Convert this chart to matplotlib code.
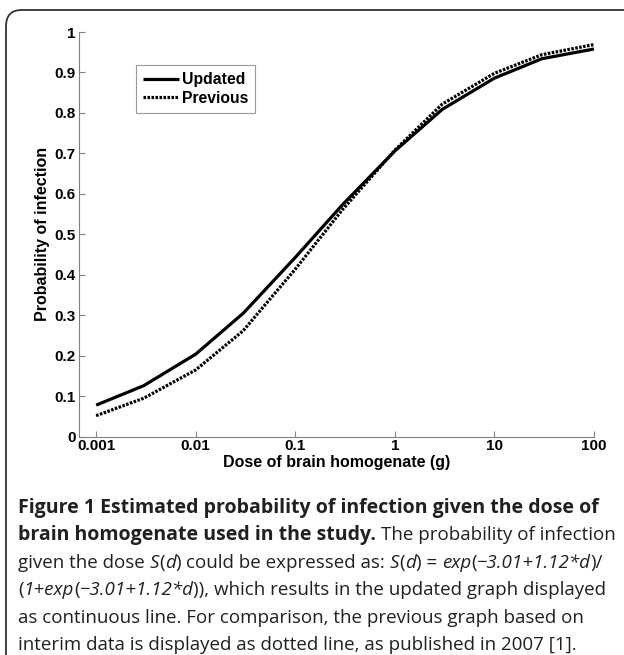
import matplotlib
matplotlib.use('Agg')
from matplotlib import pyplot as plt
from matplotlib.patches import FancyBboxPatch
from matplotlib.ticker import FixedLocator, FixedFormatter, NullLocator

# dose (g) and probability
dose = [0.001, 0.003, 0.01, 0.03, 0.1, 0.3, 1, 3, 10, 30, 100]
updated = [0.078, 0.126, 0.204, 0.305, 0.443, 0.574, 0.706, 0.809, 0.886, 0.934, 0.958]
previous = [0.052, 0.095, 0.165, 0.262, 0.414, 0.562, 0.708, 0.822, 0.898, 0.944, 0.969]

xticks = [0.001, 0.01, 0.1, 1, 10, 100]
xticklabels = ['0.001', '0.01', '0.1', '1', '10', '100']
yticks = [0, 0.1, 0.2, 0.3, 0.4, 0.5, 0.6, 0.7, 0.8, 0.9, 1]
yticklabels = ['0', '0.1', '0.2', '0.3', '0.4', '0.5', '0.6', '0.7', '0.8', '0.9', '1']

W, H = 624, 655
fig = plt.figure(figsize=(W / 100, H / 100), dpi=100)

# rounded frame around figure + caption (clipped at right/bottom)
frame = FancyBboxPatch((6 / W, -30 / H), 660 / W, (H - 10 + 30) / H,
                       boxstyle='round,pad=0,rounding_size=0.025',
                       transform=fig.transFigure, fill=False,
                       edgecolor='#333333', linewidth=1.3)
fig.patches.append(frame)

ax = fig.add_axes([78.5 / W, 1 - 436.7 / H, (594 - 78.5) / W, (436.7 - 32) / H])
ax.plot(dose, updated, color='black', lw=2.3, solid_capstyle='butt', label='Updated')
ax.plot(dose, previous, color='black', lw=2.3, linestyle=(0, (0.8, 0.45)),
        dash_capstyle='butt', label='Previous')

ax.set_xscale('log')
ax.set_xlim(0.000665, 100)
ax.set_ylim(0, 1)
ax.xaxis.set_major_locator(FixedLocator(xticks))
ax.xaxis.set_major_formatter(FixedFormatter(xticklabels))
ax.xaxis.set_minor_locator(NullLocator())
ax.set_yticks(yticks)
ax.set_yticklabels(yticklabels)

for s in ['top', 'right']:
    ax.spines[s].set_visible(False)
for s in ['left', 'bottom']:
    ax.spines[s].set_color('#808080')
    ax.spines[s].set_linewidth(0.8)
ax.tick_params(direction='in', length=4, width=0.8, color='#808080', pad=2)

axfont = dict(family='Liberation Sans', weight='bold', size=11.5)
for lab in ax.get_xticklabels() + ax.get_yticklabels():
    lab.set_fontfamily('Liberation Sans')
    lab.set_fontweight('bold')
    lab.set_fontsize(11)
ax.set_xlabel('Dose of brain homogenate (g)', labelpad=1, **axfont)
ax.set_ylabel('Probability of infection', labelpad=3, **axfont)

leg = ax.legend(loc='upper left', bbox_to_anchor=(57.5 / 515.5, 1 - 33 / 404.7),
                prop=dict(family='Liberation Sans', weight='bold', size=11.3),
                frameon=True, fancybox=False, handlelength=2.3, handletextpad=0.15,
                borderpad=0.45, labelspacing=0.25, borderaxespad=0)
leg.get_frame().set_edgecolor('#808080')
leg.get_frame().set_linewidth(0.8)

# caption with mixed bold / italic runs
caption = [
    [('Figure 1 Estimated probability of infection given the dose of', 'bold', 'normal')],
    [('brain homogenate used in the study.', 'bold', 'normal'),
     (' The probability of infection', 'normal', 'normal')],
    [('given the dose ', 'normal', 'normal'), ('S', 'normal', 'italic'),
     ('(', 'normal', 'normal'), ('d', 'normal', 'italic'), (')', 'normal', 'normal'),
     (' could be expressed as: ', 'normal', 'normal'), ('S', 'normal', 'italic'),
     ('(', 'normal', 'normal'), ('d', 'normal', 'italic'), (') = ', 'normal', 'normal'),
     ('exp', 'normal', 'italic'), ('(', 'normal', 'normal'),
     ('\u22123.01+1.12*d', 'normal', 'italic'), (')/', 'normal', 'normal')],
    [('(', 'normal', 'normal'), ('1+exp', 'normal', 'italic'), ('(', 'normal', 'normal'),
     ('\u22123.01+1.12*d', 'normal', 'italic'),
     (')), which results in the updated graph displayed', 'normal', 'normal')],
    [('as continuous line. For comparison, the previous graph based on', 'normal', 'normal')],
    [('interim data is displayed as dotted line, as published in 2007 [1].', 'normal', 'normal')],
]
cap_size = {'normal': 13.5, 'bold': 14.0}
cap_color = '#231f20'
renderer = fig.canvas.get_renderer()


def text_width(s, weight, style):
    t = fig.text(0, 0, '|' + s + '|', family='Open Sans', weight=weight, style=style,
                 size=cap_size[weight])
    t2 = fig.text(0, 0, '||', family='Open Sans', weight=weight, style=style,
                  size=cap_size[weight])
    w = t.get_window_extent(renderer).width - t2.get_window_extent(renderer).width
    t.remove()
    t2.remove()
    return w


y0 = 507.5
for i, line in enumerate(caption):
    x = 18.0
    y = y0 + i * 27.6
    for s, weight, style in line:
        sp = text_width(' ', weight, style)
        lead = len(s) - len(s.lstrip(' '))
        trail = len(s) - len(s.rstrip(' '))
        core = s.strip(' ')
        x += lead * sp
        fig.text(x / W, 1 - y / H, core, family='Open Sans', weight=weight, style=style,
                 size=cap_size[weight], color=cap_color, va='center', ha='left')
        x += text_width(core, weight, style) + trail * sp

fig.savefig('out.png', dpi=100)
